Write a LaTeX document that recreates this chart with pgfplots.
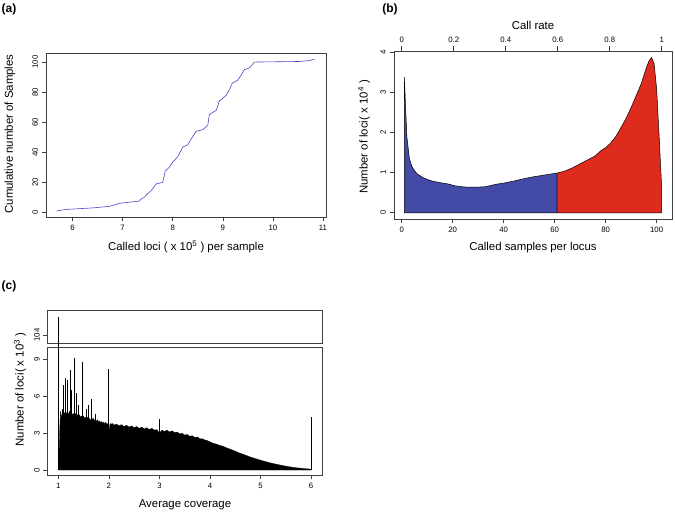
\documentclass[border=0pt]{standalone}
\usepackage{fontspec}
\setmainfont{Liberation Sans}
\usepackage{pgfplots}
\pgfplotsset{compat=1.18}

\definecolor{lineblue}{RGB}{72,72,200}
\definecolor{fillblue}{RGB}{67,75,166}
\definecolor{fillred}{RGB}{223,42,30}
\newcommand\tk{\fontsize{7.8}{9}\selectfont}
\newcommand\lb{\fontsize{11.4}{13}\selectfont}

% R-like base plot look
\pgfplotsset{rplot/.style={
    scale only axis, anchor=south west,
    axis line style={black!75, line width=0.6pt},
    every tick/.style={black!75, line width=0.6pt},
    tick align=outside, major tick length=4.5pt,
    xtick pos=left, ytick pos=left,
    tick label style={font=\tk},
    /pgf/number format/assume math mode=true,
    yticklabel style={rotate=90, anchor=south},
    xticklabel style={anchor=north},
}}

\begin{document}
\begin{tikzpicture}[x=1pt,y=1pt]
\useasboundingbox (0,0) rectangle (675,514);

% ---------- (a) ----------
\begin{axis}[rplot, at={(46pt,297pt)}, width=280pt, height=164pt,
    xmin=5.47, xmax=11.06, ymin=-3.04, ymax=106.04,
    xtick={6,...,11}, ytick={0,20,...,100}]
\addplot[lineblue, line width=0.6pt] coordinates {
 (5.68,1) (5.87,2) (6.4,3) (6.73,4) (6.83,5) (6.93,6) (7.05,6.5) (7.33,7.5)
 (7.37,9) (7.43,10) (7.50,12.5) (7.57,14.5) (7.67,19) (7.80,20) (7.85,27.5)
 (7.93,30) (8.00,33.5) (8.10,37) (8.20,43.5) (8.30,45) (8.37,49) (8.47,54)
 (8.60,55) (8.70,58) (8.73,65) (8.87,68) (8.93,74) (9.07,78) (9.13,81.5)
 (9.19,86) (9.30,88) (9.37,91.5) (9.43,95) (9.53,96) (9.63,100)
 (10.53,100.4) (10.73,101) (10.83,102)};
\end{axis}
\node[font=\lb] at (186,267) {Called loci ( x 10\textsuperscript{5} ) per sample};
\node[font=\lb, rotate=90] at (10,380) {Cumulative number of Samples};
\node[font=\fontsize{12}{13}\selectfont\bfseries] at (9,505) {(a)};

% ---------- (b) ----------
\begin{axis}[rplot, at={(394pt,295pt)}, width=278pt, height=168pt,
    xmin=-3.04, xmax=106.04, ymin=-0.155, ymax=4.03,
    xtick={0,20,...,100}, ytick={0,...,4}]
\addplot[fill=fillblue, draw=black, line width=0.5pt] coordinates {
 (1,0) (1,3.38) (2,1.9) (3,1.35) (4,1.15) (5,1.05) (6,0.97) (8,0.89) (10,0.83)
 (12,0.79) (15,0.75) (18,0.72) (21,0.67) (25,0.64) (30,0.64) (33,0.65)
 (37,0.71) (40,0.74) (44,0.79) (48,0.85) (52,0.90) (56,0.94) (61,0.99) (61,0)}
 -- cycle;
\addplot[fill=fillred, draw=black, line width=0.5pt] coordinates {
 (61,0) (61,0.99) (64,1.04) (67,1.12) (70,1.22) (73,1.32) (76,1.42) (78,1.54)
 (80,1.62) (82,1.74) (84,1.90) (86,2.12) (88,2.35) (90,2.62) (92,2.92)
 (94,3.22) (95,3.42) (96,3.62) (97,3.78) (98,3.87) (99,3.72) (100,3.1)
 (101,1.9) (102,0.6) (102,0)} -- cycle;
\end{axis}
\begin{axis}[rplot, at={(394pt,295pt)}, width=278pt, height=168pt,
    xmin=-0.0298, xmax=1.0396, ymin=0, ymax=1,
    axis x line*=top, hide y axis, xtick pos=right,
    xtick={0,0.2,0.4,0.6,0.8,1}, xticklabels={0,0.2,0.4,0.6,0.8,1},
    xticklabel style={anchor=south}]
\addplot[draw=none] coordinates {(0,0) (1,1)};
\end{axis}
\node[font=\lb] at (533,266) {Called samples per locus};
\node[font=\lb] at (533,489) {Call rate};
\node[font=\lb, rotate=90] at (364,377) {Number of loci( x 10\textsuperscript{4} )};
\node[font=\fontsize{12}{13}\selectfont\bfseries] at (390,505) {(b)};

% ---------- (c) ----------
\begin{axis}[rplot, at={(47.7pt,170.7pt)}, width=275pt, height=32.6pt,
    xmin=0.79, xmax=6.23, ymin=103.32, ymax=105.98,
    xtick=\empty, ytick={104}, clip=false]
\addplot[black, line width=1pt] coordinates {(1,102.98) (1,105.5)};
\end{axis}
\begin{axis}[rplot, at={(47.7pt,39pt)}, width=275pt, height=127.7pt,
    xmin=0.79, xmax=6.23, ymin=-0.4, ymax=10,
    xtick={1,...,6}, ytick={0,3,6,9}]
\addplot[fill=black, draw=black, line width=0.3pt] table {
x y
1.005 0
1.010 0.9
1.020 2.0
1.030 3.5
1.045 4.8
1.06 4.3
1.08 4.6
1.10 4.9
1.12 4.5
1.14 4.8
1.16 4.6
1.18 4.7
1.20 4.5
1.22 4.8
1.24 4.6
1.26 4.7
1.28 4.5
1.30 4.6
1.32 4.4
1.34 4.6
1.36 4.4
1.38 4.5
1.40 4.3
1.42 4.5
1.44 4.3
1.46 4.4
1.48 4.2
1.50 4.4
1.52 4.2
1.54 4.3
1.56 4.1
1.58 4.3
1.60 4.1
1.62 4.2
1.64 4.0
1.66 4.3
1.68 4.1
1.70 4.2
1.72 4.0
1.74 4.1
1.76 3.95
1.78 4.1
1.80 3.9
1.82 4.0
1.84 3.85
1.86 3.95
1.88 3.8
1.90 3.9
1.92 3.75
1.94 3.9
1.96 3.7
1.98 3.8
2.00 3.1
2.02 3.7
2.04 3.8
2.06 3.7
2.08 3.8
2.10 3.65
2.15 3.75
2.20 3.6
2.25 3.7
2.30 3.55
2.35 3.65
2.40 3.5
2.45 3.6
2.50 3.45
2.55 3.55
2.60 3.4
2.65 3.5
2.70 3.35
2.75 3.45
2.80 3.3
2.85 3.4
2.90 3.25
2.95 3.3
3.00 3.0
3.05 3.25
3.10 3.15
3.15 3.25
3.20 3.1
3.25 3.2
3.30 3.05
3.35 3.1
3.40 2.95
3.45 3.0
3.50 2.85
3.55 2.9
3.60 2.75
3.65 2.8
3.70 2.65
3.75 2.7
3.80 2.55
3.85 2.55
3.90 2.45
3.95 2.4
4.00 2.3
4.05 2.2
4.10 2.15
4.15 2.08
4.20 2.0
4.25 1.95
4.30 1.86
4.35 1.78
4.40 1.7
4.45 1.62
4.50 1.54
4.55 1.45
4.60 1.37
4.65 1.29
4.70 1.22
4.75 1.14
4.80 1.06
4.85 1.0
4.90 0.93
4.95 0.87
5.00 0.81
5.10 0.69
5.20 0.58
5.30 0.49
5.40 0.40
5.50 0.32
5.60 0.25
5.70 0.19
5.80 0.15
5.90 0.11
5.99 0.08
6.00 0
} -- cycle;
\addplot[ycomb, black, line width=0.8pt] coordinates {
 (1.09,5.0) (1.11,6.9) (1.145,7.5) (1.185,7.3) (1.23,8.15) (1.26,6.5)
 (1.31,9.1) (1.36,6.25) (1.40,5.3) (1.475,8.8) (1.55,5.0) (1.60,5.3)
 (1.66,5.8) (1.73,4.6) (1.99,8.2) (3.0,4.16) (6.0,4.3)};
\addplot[ycomb, black, line width=1pt] coordinates {(1,105.5)};
\end{axis}
\node[font=\lb] at (185,9) {Average coverage};
\node[font=\lb, rotate=90] at (20,124.5) {Number of loci( x 10\textsuperscript{3} )};
\node[font=\fontsize{12}{13}\selectfont\bfseries] at (9,228) {(c)};
\end{tikzpicture}
\end{document}
